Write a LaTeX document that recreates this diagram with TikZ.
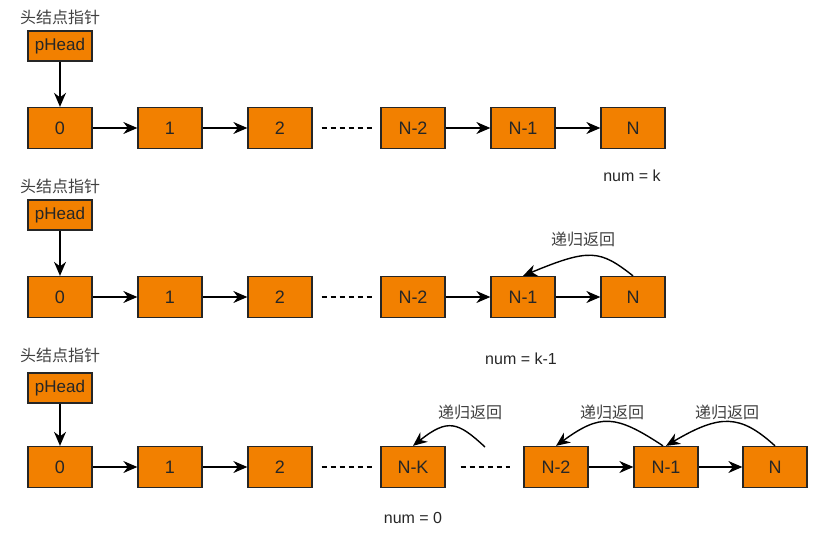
\documentclass[tikz,border=0pt]{standalone}
\usepackage{fontspec}
\setmainfont{Liberation Sans}
\newfontfamily\cjk{Noto Sans CJK SC}
\usetikzlibrary{arrows.meta}
\definecolor{boxorange}{RGB}{242,128,0}
\begin{document}
\begin{tikzpicture}[x=1pt,y=-1pt,
  box/.style={draw=black!85, line width=1.3pt, fill=boxorange, minimum width=64pt, minimum height=41pt, inner sep=0pt, font=\fontsize{18}{18}\selectfont, text=black!85},
  ptr/.style={draw=black!85, line width=1.3pt, fill=boxorange, minimum width=64pt, minimum height=30pt, inner sep=0pt, font=\fontsize{17}{17}\selectfont, text=black!85},
  captext/.style={font=\cjk\fontsize{16}{16}\selectfont, text=black!75},
  numlbl/.style={font=\fontsize{16}{16}\selectfont, text=black!85},
  link/.style={line width=1.4pt, -{Stealth[length=14pt,width=12pt,inset=4.5pt]}},
  back/.style={line width=1.4pt, -{Stealth[length=14pt,width=12pt,inset=4.5pt]}},
  dots/.style={line width=1.2pt, dash pattern=on 5pt off 4pt}]
\useasboundingbox (0,0) rectangle (821,537);
% ---------- row 1 ----------
\node[captext] (h1) at (60,17) {头结点指针};
\node[ptr] (p1) at (60,46) {pHead};
\node[box] (a0) at (60,128) {0};
\node[box] (a1) at (170,128) {1};
\node[box] (a2) at (280,128) {2};
\node[box] (a3) at (413,128) {N-2};
\node[box] (a4) at (523,128) {N-1};
\node[box] (a5) at (633,128) {N};
\node[numlbl] (k1) at (632,176) {num = k};
\draw[link] (p1) -- (a0);
\draw[link] (a0) -- (a1);
\draw[link] (a1) -- (a2);
\draw[dots, shorten <=9pt, shorten >=8pt] (a2) -- (a3);
\draw[link] (a3) -- (a4);
\draw[link] (a4) -- (a5);
% ---------- row 2 ----------
\node[captext] (h2) at (60,186) {头结点指针};
\node[ptr] (p2) at (60,215) {pHead};
\node[box] (b0) at (60,297) {0};
\node[box] (b1) at (170,297) {1};
\node[box] (b2) at (280,297) {2};
\node[box] (b3) at (413,297) {N-2};
\node[box] (b4) at (523,297) {N-1};
\node[box] (b5) at (633,297) {N};
\node[captext] (r2) at (583,239) {递归返回};
\node[numlbl] (k2) at (521,359) {num = k-1};
\draw[link] (p2) -- (b0);
\draw[link] (b0) -- (b1);
\draw[link] (b1) -- (b2);
\draw[dots, shorten <=9pt, shorten >=8pt] (b2) -- (b3);
\draw[link] (b3) -- (b4);
\draw[link] (b4) -- (b5);
\draw[back] (b5.north) .. controls (600,250) and (590,248) .. (b4.north);
% ---------- row 3 ----------
\node[captext] (h3) at (60,355) {头结点指针};
\node[ptr] (p3) at (60,388) {pHead};
\node[box] (c0) at (60,467) {0};
\node[box] (c1) at (170,467) {1};
\node[box] (c2) at (280,467) {2};
\node[box] (c3) at (413,467) {N-K};
\node[box] (c4) at (556,467) {N-2};
\node[box] (c5) at (666,467) {N-1};
\node[box] (c6) at (775,467) {N};
\node[captext] (r3a) at (470,412) {递归返回};
\node[captext] (r3b) at (612,412) {递归返回};
\node[captext] (r3c) at (727,412) {递归返回};
\node[numlbl] (k3) at (413,518) {num = 0};
\coordinate (free) at (485,447);
\draw[link] (p3) -- (c0);
\draw[link] (c0) -- (c1);
\draw[link] (c1) -- (c2);
\draw[dots, shorten <=9pt, shorten >=8pt] (c2) -- (c3);
\draw[dots, shorten <=15pt, shorten >=13pt] (c3) -- (c4);
\draw[link] (c4) -- (c5);
\draw[link] (c5) -- (c6);
\draw[back] (free) .. controls (458,422) and (448,418) .. (c3.north);
\draw[back] ([xshift=-3pt]c5.north) .. controls (615,414) and (600,414) .. (c4.north);
\draw[back] (c6.north) .. controls (740,414) and (720,414) .. (c5.north);
\end{tikzpicture}
\end{document}
